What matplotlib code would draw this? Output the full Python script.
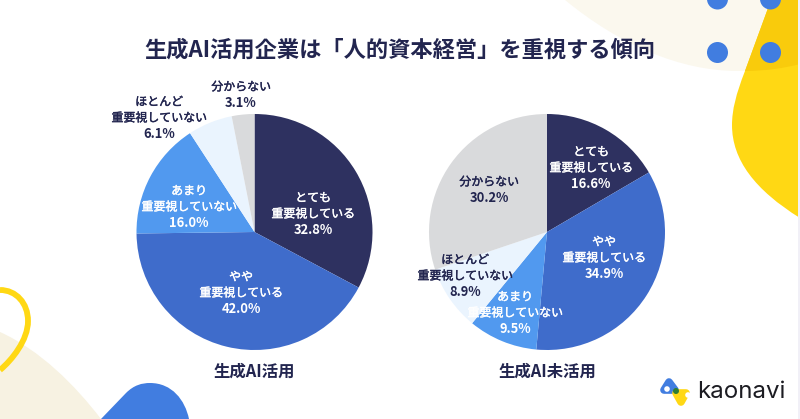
import matplotlib
matplotlib.use("Agg")
import matplotlib.pyplot as plt
import matplotlib.patheffects as pe
from matplotlib.path import Path
from matplotlib.patches import PathPatch, Circle, Rectangle

plt.rcParams['font.family'] = ['Noto Sans CJK JP', 'DejaVu Sans']

title = "生成AI活用企業は「人的資本経営」を重視する傾向"
categories = ["とても\n重要視している", "やや\n重要視している", "あまり\n重要視していない",
              "ほとんど\n重要視していない", "分からない"]
used_values = [32.8, 42.0, 16.0, 6.1, 3.1]
unused_values = [16.6, 34.9, 9.5, 8.9, 30.2]
used_name = "生成AI活用"
unused_name = "生成AI未活用"
colors = ["#2e3160", "#3f6ccb", "#5199ef", "#eaf4fe", "#d9dadc"]
NAVY = "#22254f"
W, H = 800, 419

fig = plt.figure(figsize=(8.0, 4.19), dpi=100, facecolor="white")
bg = fig.add_axes([0, 0, 1, 1], zorder=0)
bg.set_xlim(0, W); bg.set_ylim(H, 0); bg.axis("off")

def blob(verts, codes, color, z=1):
    bg.add_patch(PathPatch(Path(verts, codes), facecolor=color, edgecolor="none", zorder=z))

M, C, L, Z = Path.MOVETO, Path.CURVE4, Path.LINETO, Path.CLOSEPOLY
# top right cream
blob([(565, 0), (620, 45), (680, 71), (738, 71), (765, 71), (785, 68), (800, 64), (800, 0), (565, 0)],
     [M, C, C, C, C, C, C, L, Z], "#fbf8ee", 1)
# yellow blob
blob([(771, 0), (745, 71), (736, 94), (732, 110), (732, 125),
      (732, 160), (755, 190), (800, 218), (800, 0), (771, 0)],
     [M, L, C, C, C, C, C, C, L, Z], "#ffd814", 2)
# overlap of the yellow blob and cream
blob([(771, 0), (745, 71), (765, 71), (785, 68), (800, 64), (800, 0), (771, 0)],
     [M, L, C, C, C, L, Z], "#f9cb0c", 3)
# dots
for xc, yc in [(717.5, -1), (770.5, -1), (717.5, 52.5), (770.5, 52.5)]:
    bg.add_patch(Circle((xc, yc), 10.5, facecolor="#417de0", edgecolor="none", zorder=4))
# bottom left cream
blob([(0, 332), (40, 350), (75, 385), (101, 419), (0, 419), (0, 332)],
     [M, C, C, C, L, Z], "#f7f2e2", 1)
# yellow ring
ring = Path([(0, 290), (16, 290), (28, 303), (28, 321), (28, 340), (12, 360), (0, 370)],
            [M, C, C, C, C, C, C])
bg.add_patch(PathPatch(ring, facecolor="none", edgecolor="#ffd814", lw=4.2, zorder=2, capstyle="butt"))
# bottom blue shape
blob([(101, 419), (126, 393), (134, 385), (142, 383), (150, 383),
      (172, 383), (185, 400), (189, 419), (101, 419)],
     [M, L, C, C, C, C, C, C, Z], "#417de0", 2)
# right page edge
bg.add_patch(Rectangle((798, 0), 2, H, facecolor="#f1f0f7", edgecolor="none", zorder=6))

# logo
def tri(pts, color, z):
    bg.add_patch(PathPatch(Path(pts + [pts[0]], [M, L, L, Z]), facecolor=color, edgecolor=color,
                           lw=5.5, joinstyle="round", zorder=z))
tri([(669, 382), (664, 390), (675, 390)], "#417de0", 3)
tri([(676, 393), (686, 393), (681, 402)], "#ffd814", 3)
bg.add_patch(Circle((676, 391), 3.0, facecolor="#2e7d32", edgecolor="none", zorder=4))
bg.add_patch(Circle((667, 389), 2.8, facecolor="white", edgecolor="none", zorder=5))
bg.add_patch(Circle((688, 395), 2.8, facecolor="white", edgecolor="none", zorder=5))
bg.text(697, 392, "kaonavi", family="Inter", fontsize=17.3, color="#1c1c22",
        ha="left", va="center", zorder=5)

def pie_axes(cx, cy, r, values):
    ax = fig.add_axes([(cx - r) / W, 1 - (cy + r) / H, 2 * r / W, 2 * r / H], zorder=2)
    ax.pie(values, colors=colors, startangle=90, counterclock=False, radius=1,
           wedgeprops=dict(linewidth=0))
    ax.set_xlim(-1, 1); ax.set_ylim(-1, 1)
    ax.patch.set_alpha(0)
    return ax

pie_axes(254.5, 232, 118, used_values)
pie_axes(547, 232, 118, unused_values)

top = fig.add_axes([0, 0, 1, 1], zorder=3)
top.set_xlim(0, W); top.set_ylim(H, 0); top.axis("off"); top.patch.set_alpha(0)

def lab(x, y, s, v, c):
    nlines = s.count("\n") + 1
    pitch = 16.0
    first = y - pitch * nlines / 2
    for i, line in enumerate(s.split("\n")):
        t = top.text(x, first + i * pitch, line, color=c, fontsize=8.6, ha="center", va="center")
        t.set_path_effects([pe.withStroke(linewidth=0.3, foreground=c)])
    top.text(x, first + nlines * pitch, f"{v:.1f}%", color=c, fontsize=9.3, ha="center", va="center",
             fontweight="bold")

W_, D_ = "white", "#22254f"
# left pie
lab(313, 214, categories[0], used_values[0], W_)
lab(241, 293, categories[1], used_values[1], W_)
lab(189, 207, categories[2], used_values[2], W_)
lab(159, 118, categories[3], used_values[3], D_)
lab(241, 95, categories[4], used_values[4], D_)
# right pie
lab(591, 168, categories[0], unused_values[0], W_)
lab(604, 258, categories[1], unused_values[1], W_)
lab(515, 313, categories[2], unused_values[2], W_)
lab(465, 276, categories[3], unused_values[3], D_)
lab(489, 190, categories[4], unused_values[4], D_)

top.text(400, 50.5, title, color=NAVY, fontsize=16, fontweight="bold", ha="center", va="center")
top.text(254, 372, used_name, color=NAVY, fontsize=11.8, fontweight="bold", ha="center", va="center")
top.text(547, 372, unused_name, color=NAVY, fontsize=11.8, fontweight="bold", ha="center", va="center")

fig.savefig("out.png", dpi=100)
